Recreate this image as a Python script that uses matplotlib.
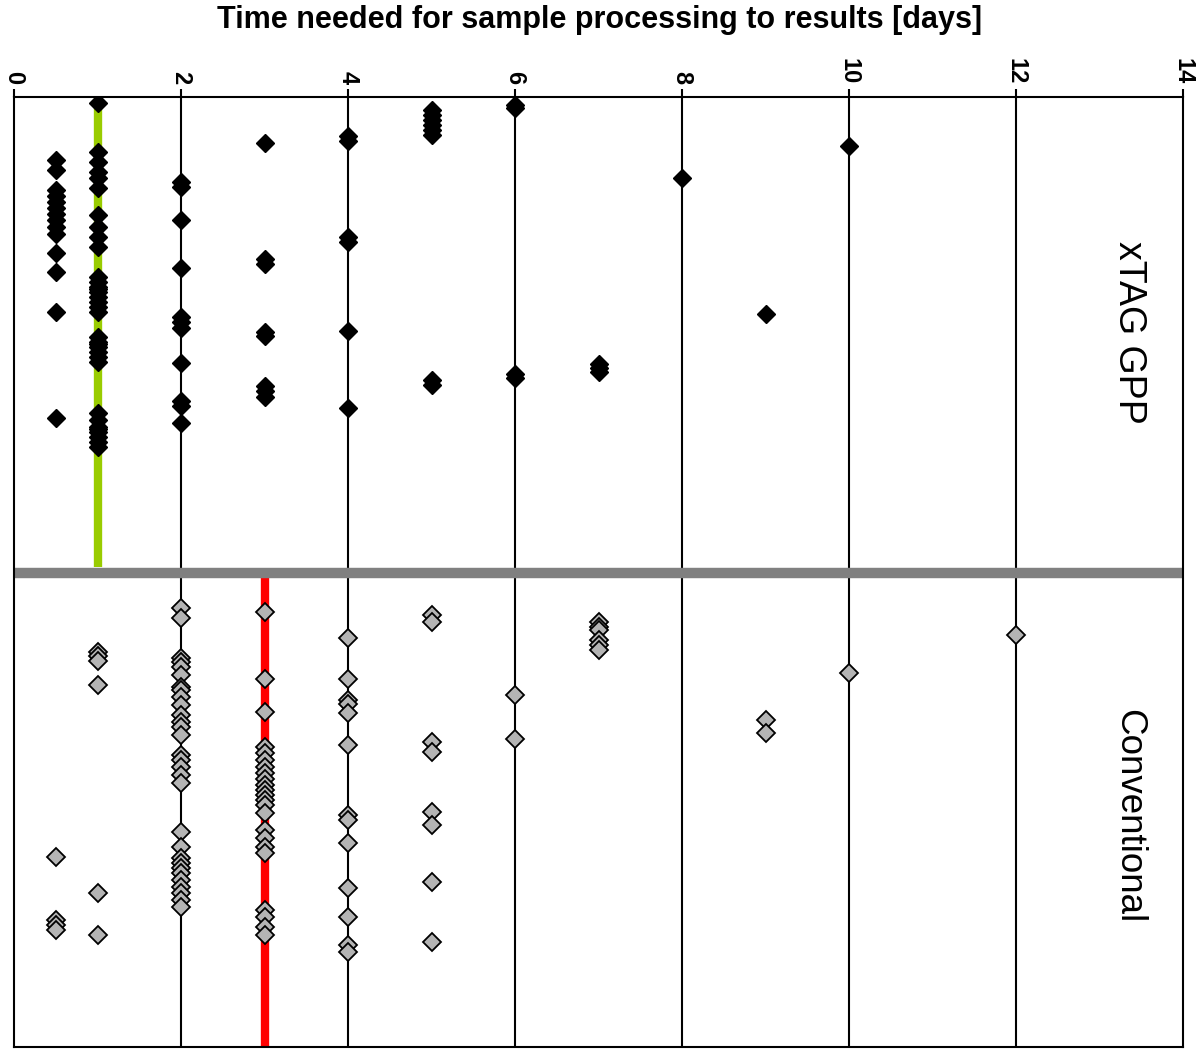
import matplotlib.pyplot as plt

plt.rcParams['font.family'] = ['Liberation Sans', 'DejaVu Sans']

# sample position (row, top to bottom) and processing time in days
# xTAG GPP group (rows 0-100)
xtag_days = (
    [0.5] * 14 + [1] * 34 + [2] * 11 + [3] * 8 + [4] * 6 + [5] * 8 +
    [6] * 4 + [7] * 3 + [8, 9, 10]
)
xtag_rows = (
    # 0.5 days
    [13.3, 15.4, 19.6, 20.8, 22.1, 23.4, 24.6, 25.9, 27.4, 28.8, 32.8, 36.8, 45.3, 67.6] +
    # 1 day
    [1.3, 11.6, 13.7, 15.8, 17.1, 19.2, 24.8, 27.4, 29.5, 31.6,
     37.9, 38.9, 40.0, 41.1, 42.1, 43.2, 44.2, 45.3,
     50.5, 51.6, 52.6, 53.7, 54.7, 55.8,
     66.5, 68.0, 69.5, 70.5, 71.6, 72.6, 73.7, 40.5, 52.0, 70.0] +
    # 2 days
    [17.9, 18.9, 25.9, 36.0, 46.3, 47.4, 48.6, 56.0, 64.0, 65.1, 68.6] +
    # 3 days
    [9.7, 34.1, 35.2, 49.5, 50.3, 60.8, 61.9, 63.2] +
    # 4 days
    [8.2, 9.3, 29.5, 30.5, 49.3, 65.5] +
    # 5 days
    [2.7, 3.8, 4.8, 5.9, 6.9, 8.0, 59.6, 60.6] +
    # 6 days
    [1.7, 2.3, 58.3, 59.2] +
    # 7 days
    [56.2, 57.1, 57.9] +
    # 8, 9, 10 days
    [17.1, 45.7, 10.3]
)

# Conventional group (rows 100-200)
conv_days = (
    [0.5] * 4 + [1] * 6 + [2] * 30 + [3] * 23 + [4] * 13 + [5] * 8 +
    [6] * 2 + [7] * 6 + [9] * 2 + [10, 12]
)
conv_rows = (
    # 0.5 days
    [160.0, 173.3, 174.3, 175.4] +
    # 1 day
    [116.8, 117.7, 118.7, 123.8, 167.6, 176.4] +
    # 2 days
    [107.6, 109.7, 118.1, 118.9, 120.0, 121.7, 124.2, 124.8, 126.3, 128.0,
     130.1, 131.6, 132.6, 134.3, 138.5, 139.6, 141.1, 142.7, 144.4,
     154.7, 157.9, 160.2, 161.3, 162.3, 163.4, 164.8, 166.3, 167.6, 169.1, 170.5] +
    # 3 days
    [108.4, 122.5, 129.5, 136.8, 138.1, 139.6, 141.1, 142.3, 143.6, 144.8,
     145.9, 147.0, 148.0, 149.1, 150.7, 154.3, 156.0, 157.9, 159.2,
     171.2, 172.6, 174.7, 176.4] +
    # 4 days
    [113.9, 122.5, 126.9, 127.8, 129.7, 136.4, 151.2, 152.2, 157.0, 166.5,
     172.6, 178.5, 180.0] +
    # 5 days
    [109.1, 110.5, 135.8, 137.9, 150.5, 153.3, 165.3, 177.9] +
    # 6 days
    [125.9, 135.2] +
    # 7 days
    [110.5, 111.6, 112.2, 114.3, 115.4, 116.4] +
    # 9, 10, 12 days
    [131.2, 133.9, 121.3, 113.3]
)

xtag_median = 1
conv_median = 3
group_split = 100.2
xticks = [0, 2, 4, 6, 8, 10, 12, 14]

fig = plt.figure(figsize=(12, 10.51), dpi=100)
ax = fig.add_axes([0.0117, 0.0038, 0.9742, 0.904])

# vertical gridlines
for t in xticks[1:-1]:
    ax.axvline(t, color='black', lw=1.5, zorder=1)

# medians and group separator
ax.plot([xtag_median, xtag_median], [0, 99], color='#99cc00', lw=6, zorder=2,
        solid_capstyle='butt')
ax.plot([conv_median, conv_median], [101, 200], color='#ff0000', lw=6, zorder=2,
        solid_capstyle='butt')
ax.axhline(group_split, color='#808080', lw=7.5, zorder=2)

ax.plot(xtag_days, xtag_rows, 'D', color='black', markersize=9.5, zorder=3)
ax.plot(conv_days, conv_rows, 'D', markerfacecolor='#b4b4b4', markeredgecolor='black',
        markeredgewidth=1.3, markersize=9.5, linestyle='none', zorder=3)

ax.set_xlim(0, 14)
ax.set_ylim(200, 0)
ax.xaxis.tick_top()
ax.set_xticks(xticks)
ax.set_xticklabels([str(t) for t in xticks], rotation=-90, fontsize=17,
                   fontweight='bold')
ax.tick_params(axis='x', direction='out', length=6, width=1.5, pad=3)
ax.set_yticks([])
for s in ax.spines.values():
    s.set_linewidth(1.5)

ax.text(13.35, 49.5, 'xTAG GPP', rotation=-90, fontsize=27, ha='center', va='center')
ax.text(13.35, 151.5, 'Conventional', rotation=-90, fontsize=26.5, ha='center', va='center')

fig.text(0.5, 0.981, 'Time needed for sample processing to results [days]',
         fontsize=22, fontweight='bold', ha='center', va='center')

fig.savefig('out.png', dpi=100)
